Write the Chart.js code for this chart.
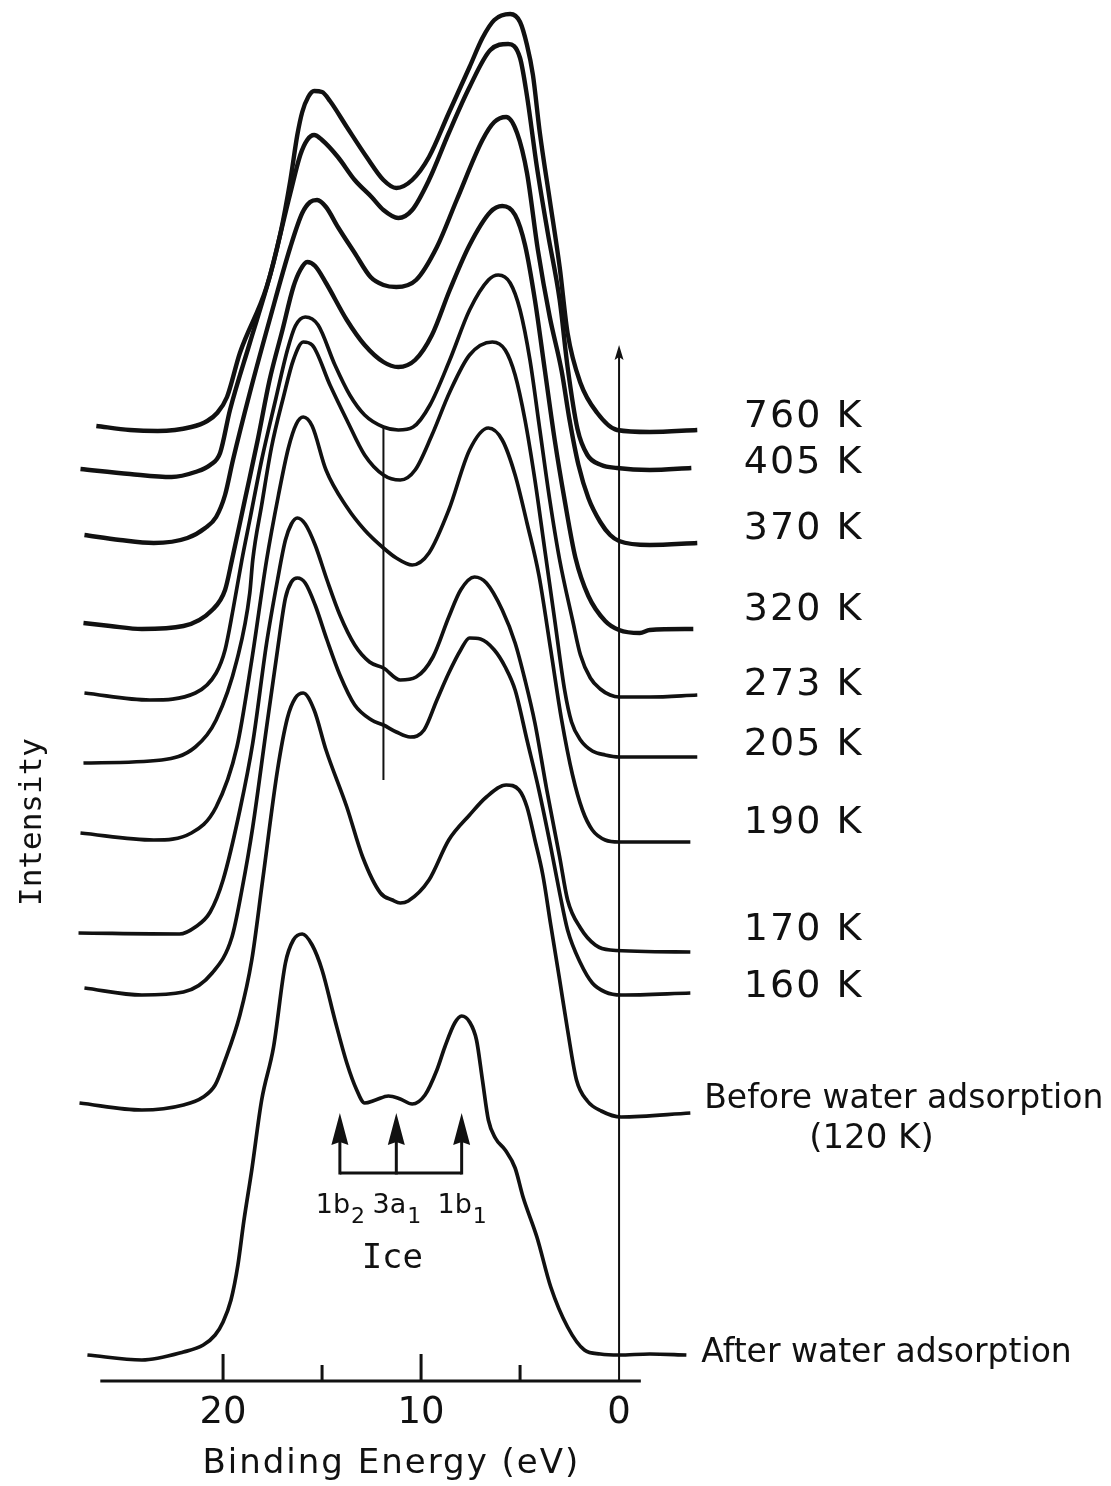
<!DOCTYPE html>
<html>
<head>
<meta charset="utf-8">
<title>Valence band spectra before and after water adsorption</title>
<script src="https://cdn.jsdelivr.net/npm/chart.js@4.4.1/dist/chart.umd.min.js"></script>
<style>
  html, body { margin: 0; padding: 0; background: #fff; }
  canvas { display: block; }
</style>
</head>
<body>
<canvas id="spectra" width="1111" height="1486"></canvas>
<script>
// Each spectrum: [binding energy (eV), intensity (arb. units, stacked offset)]
const S760 = [
  [26.4, 955], [24.7, 951], [23.3, 950], [21.6, 954], [20.8, 960], [20.3, 968], [19.8, 984],
  [19.15, 1028], [17.8, 1094], [17.1, 1148], [16.6, 1201], [16.25, 1246], [16.0, 1269], [15.7, 1284],
  [15.4, 1290], [15.0, 1289], [14.6, 1280], [13.75, 1254], [12.75, 1224], [11.9, 1201], [11.25, 1193],
  [10.45, 1201], [9.6, 1224], [8.6, 1268], [7.55, 1314], [6.9, 1343], [6.3, 1361], [5.5, 1367],
  [5.0, 1359], [4.65, 1336], [4.35, 1306], [4.0, 1248], [3.5, 1181], [3.0, 1114], [2.6, 1048],
  [1.95, 998], [1.1, 968], [0.1, 951], [-1.55, 949], [-3.95, 951]
];
const S405 = [
  [27.2, 912], [24.7, 907], [22.6, 904], [21.4, 909], [20.65, 916], [20.15, 928], [19.65, 971],
  [18.65, 1038], [17.65, 1104], [16.6, 1188], [16.1, 1226], [15.75, 1241], [15.4, 1246], [15.0, 1241],
  [14.2, 1224], [13.35, 1201], [12.5, 1184], [11.9, 1171], [11.15, 1163], [10.45, 1171], [9.6, 1201],
  [8.6, 1248], [7.55, 1294], [6.5, 1331], [5.6, 1337], [5.0, 1323], [4.65, 1285], [4.15, 1214],
  [3.6, 1148], [3.0, 1081], [2.6, 1014], [2.1, 952], [1.6, 926], [0.9, 916], [0.1, 913], [-1.55, 911],
  [-3.65, 913]
];
const S370 = [
  [27.0, 846], [25.2, 841], [23.5, 838], [21.8, 843], [20.9, 853], [20.35, 864], [19.9, 886],
  [19.5, 921], [18.65, 988], [17.65, 1061], [16.6, 1134], [16.0, 1168], [15.6, 1179], [15.25, 1181],
  [14.8, 1174], [14.2, 1154], [13.35, 1128], [12.55, 1104], [11.9, 1096], [11.25, 1094], [10.25, 1101],
  [9.2, 1134], [8.2, 1181], [6.9, 1241], [6.3, 1259], [5.7, 1264], [5.15, 1248], [4.65, 1208],
  [4.1, 1131], [3.5, 1064], [2.9, 1010], [2.5, 961], [2.05, 916], [1.55, 883], [0.95, 859],
  [0.45, 846], [0.0, 840], [-1.55, 836], [-3.95, 838]
];
const S320 = [
  [27.05, 758], [25.7, 755], [24.1, 752], [22.0, 755], [20.55, 771], [19.9, 791], [19.55, 821],
  [18.9, 881], [18.25, 941], [17.65, 1001], [17.0, 1051], [16.45, 1094], [16.1, 1111], [15.75, 1119],
  [15.35, 1115], [14.8, 1098], [13.75, 1061], [12.85, 1036], [11.9, 1019], [11.15, 1014], [10.3, 1021],
  [9.45, 1046], [8.55, 1091], [7.55, 1136], [6.5, 1169], [5.9, 1175], [5.25, 1166], [4.75, 1136],
  [4.25, 1081], [3.75, 1011], [3.25, 941], [2.75, 881], [2.2, 823], [1.55, 785], [0.7, 760],
  [0.0, 751], [-1.05, 748], [-1.55, 751], [-3.75, 752]
];
const S273 = [
  [27.0, 688], [23.7, 681], [21.4, 688], [20.35, 708], [19.9, 731], [19.5, 771], [19.05, 821],
  [18.65, 861], [18.05, 921], [17.35, 981], [16.75, 1031], [16.35, 1055], [15.85, 1064], [15.2, 1056],
  [14.35, 1016], [13.6, 986], [12.85, 966], [11.9, 954], [11.15, 951], [10.4, 954], [9.55, 976],
  [8.55, 1021], [7.55, 1071], [6.6, 1101], [6.1, 1106], [5.5, 1098], [5.0, 1071], [4.5, 1021],
  [4.0, 951], [3.5, 881], [3.0, 821], [2.35, 761], [1.95, 726], [1.45, 703], [0.95, 692],
  [0.45, 686], [0.0, 684], [-1.55, 684], [-3.95, 686]
];
const S205 = [
  [27.05, 618], [23.1, 621], [21.4, 634], [20.35, 661], [19.3, 721], [18.65, 788], [18.5, 821],
  [18.05, 876], [17.55, 934], [16.95, 984], [16.45, 1021], [15.95, 1039], [15.5, 1036], [14.6, 996],
  [13.75, 961], [12.85, 926], [11.9, 906], [11.05, 901], [10.3, 911], [9.45, 946], [8.55, 989],
  [7.55, 1026], [6.4, 1039], [5.75, 1031], [5.25, 1006], [4.75, 961], [4.25, 901], [3.75, 831],
  [3.25, 761], [2.75, 691], [2.4, 659], [1.95, 641], [1.35, 630], [0.7, 626], [0.0, 624], [-3.95, 624]
];
const S190 = [
  [27.2, 548], [23.5, 541], [21.6, 548], [20.35, 574], [19.3, 634], [18.55, 721], [17.8, 821],
  [17.2, 886], [16.7, 933], [16.3, 957], [15.95, 964], [15.5, 955], [14.8, 911], [13.75, 874],
  [12.85, 851], [11.9, 833], [11.25, 823], [10.45, 816], [9.6, 828], [8.6, 871], [7.55, 931],
  [6.6, 953], [5.9, 941], [5.25, 906], [4.65, 858], [4.05, 806], [3.45, 731], [2.9, 661],
  [2.35, 606], [1.85, 571], [1.35, 551], [0.7, 541], [0.0, 539], [-3.6, 539]
];
const S170 = [
  [27.3, 448], [22.2, 447], [21.4, 454], [20.65, 469], [20.0, 501], [19.15, 571], [18.5, 638],
  [17.8, 738], [17.25, 801], [16.85, 841], [16.55, 857], [16.25, 863], [15.85, 857], [15.35, 836],
  [14.75, 801], [14.1, 766], [13.35, 736], [12.6, 719], [11.9, 713], [11.05, 701], [10.25, 704],
  [9.4, 724], [8.6, 764], [8.0, 791], [7.3, 804], [6.7, 798], [5.9, 771], [5.25, 738], [4.75, 701],
  [4.25, 658], [3.65, 591], [3.0, 524], [2.6, 481], [1.95, 453], [1.2, 436], [0.45, 431], [-3.6, 429]
];
const S160 = [
  [27.0, 393], [24.1, 386], [22.0, 389], [20.55, 408], [19.55, 444], [19.05, 491], [18.5, 554],
  [17.8, 654], [17.25, 731], [16.85, 783], [16.55, 799], [16.25, 803], [15.85, 798], [15.35, 776],
  [14.75, 741], [14.1, 706], [13.35, 676], [12.5, 661], [11.9, 656], [11.25, 649], [10.55, 644],
  [9.85, 651], [9.2, 681], [8.6, 708], [8.0, 731], [7.55, 743], [7.0, 742], [6.3, 731], [5.75, 714],
  [5.25, 691], [4.65, 641], [4.05, 591], [3.45, 534], [3.0, 488], [2.6, 451], [1.95, 418],
  [1.35, 398], [0.7, 389], [-0.1, 386], [-3.6, 388]
];
const S_BEFORE = [
  [27.25, 278], [24.1, 271], [22.0, 276], [21.0, 284], [20.4, 296], [19.95, 318], [19.15, 366],
  [18.55, 421], [18.0, 501], [17.25, 611], [16.75, 663], [16.35, 683], [15.95, 688], [15.4, 671],
  [14.8, 631], [13.75, 574], [12.95, 524], [12.05, 488], [11.45, 481], [11.05, 478], [10.65, 480],
  [9.6, 501], [8.6, 541], [7.55, 566], [6.7, 584], [5.7, 596], [5.05, 591], [4.65, 574], [4.25, 541],
  [3.85, 506], [3.45, 456], [3.0, 401], [2.6, 351], [2.15, 301], [1.6, 280], [0.9, 270],
  [-0.1, 264], [-3.6, 268]
];
const S_AFTER = [
  [26.85, 26], [24.1, 21], [22.0, 29], [21.0, 36], [20.4, 46], [20.0, 59], [19.6, 81], [19.25, 116],
  [18.95, 160], [18.55, 211], [18.05, 281], [17.45, 334], [16.85, 418], [16.45, 441], [16.0, 447],
  [15.5, 436], [15.0, 411], [14.35, 361], [13.75, 318], [13.25, 291], [12.85, 278], [12.3, 281],
  [11.65, 285], [11.05, 282], [10.45, 277], [9.8, 286], [9.2, 311], [8.8, 334], [8.3, 358],
  [7.95, 365], [7.55, 359], [7.2, 341], [6.9, 301], [6.6, 261], [6.25, 243], [5.75, 231],
  [5.25, 213], [4.85, 184], [4.15, 144], [3.45, 94], [2.6, 54], [1.75, 31], [0.95, 27], [0.0, 26],
  [-1.55, 27], [-3.4, 26]
];

const SPECTRA = [S760, S405, S370, S320, S273, S205, S190, S170, S160, S_BEFORE, S_AFTER];
const TEMPERATURES = ['760 K', '405 K', '370 K', '320 K', '273 K', '205 K', '190 K', '170 K', '160 K'];

const ENERGY_TICKS = [20, 15, 10, 5, 0];
const ENERGY_LABELS = ['20', '10', '0'];

// ice orbitals marked under the adsorbed spectrum
const ICE_PEAKS = [14.1, 11.25, 7.95];
const ICE_ORBITALS = [['1b', '2'], ['3a', '1'], ['1b', '1']];
const GUIDE_3A1 = 11.9;

// ---- drawing setup ----
const INK = '#111';
const SANS = '"DejaVu Sans", "Liberation Sans", sans-serif';
const MONO = '"DejaVu Sans Mono", "Liberation Mono", monospace';

// baselines (intensity units) for the temperature labels
const LABEL_LEVEL = [954, 908, 842, 761, 686, 626, 548, 441, 384];

function write(ctx, str, x, y, size, opt = {}) {
  ctx.font = `${opt.weight || 'normal'} ${size}px ${opt.family || SANS}`;
  ctx.textAlign = opt.align || 'left';
  ctx.textBaseline = 'alphabetic';
  ctx.letterSpacing = (opt.spacing || 0) + 'px';
  ctx.fillText(str, x, y);
  ctx.letterSpacing = '0px';
}

function arrowUp(ctx, x, tip, w, h) {
  ctx.beginPath();
  ctx.moveTo(x, tip);
  ctx.lineTo(x + w / 2, tip + h);
  ctx.lineTo(x, tip + h - 3);
  ctx.lineTo(x - w / 2, tip + h);
  ctx.closePath();
  ctx.fill();
}

const annotate = {
  id: 'annotate',
  afterDatasetsDraw(chart) {
    const { ctx } = chart;
    const X = v => chart.scales.x.getPixelForValue(v);
    const Y = v => chart.scales.y.getPixelForValue(v);
    ctx.save();
    ctx.strokeStyle = INK;
    ctx.fillStyle = INK;
    ctx.lineCap = 'butt';

    // energy axis with inward ticks
    ctx.lineWidth = 3;
    ctx.beginPath();
    ctx.moveTo(X(26.2), Y(0));
    ctx.lineTo(X(-1.1), Y(0));
    ctx.stroke();
    ENERGY_TICKS.forEach(e => {
      if (e === 0) return;
      const len = e % 10 === 0 ? 27 : 16;
      ctx.beginPath();
      ctx.moveTo(X(e), Y(0));
      ctx.lineTo(X(e), Y(len));
      ctx.stroke();
    });
    ENERGY_LABELS.forEach(t => write(ctx, t, X(+t), Y(0) + 42, 37, { align: 'center' }));
    write(ctx, 'Binding Energy (eV)', X(11.5), Y(0) + 92, 34, { align: 'center', spacing: 2 });

    // Fermi level marker
    ctx.lineWidth = 2;
    ctx.beginPath();
    ctx.moveTo(X(0), Y(0));
    ctx.lineTo(X(0), Y(1026));
    ctx.stroke();
    arrowUp(ctx, X(0), Y(1036), 9, 15);

    // 3a1 guide through the intermediate spectra
    ctx.beginPath();
    ctx.moveTo(X(GUIDE_3A1), Y(953));
    ctx.lineTo(X(GUIDE_3A1), Y(601));
    ctx.stroke();

    // ice orbital arrows and bracket
    ctx.lineWidth = 3;
    ctx.beginPath();
    ctx.moveTo(X(ICE_PEAKS[0]), Y(208));
    ctx.lineTo(X(ICE_PEAKS[2]), Y(208));
    ctx.stroke();
    ICE_PEAKS.forEach((e, i) => {
      ctx.beginPath();
      ctx.moveTo(X(e), Y(208) + 1.5);
      ctx.lineTo(X(e), Y(245));
      ctx.stroke();
      arrowUp(ctx, X(e), Y(268), 17, 32);
      const [main, sub] = ICE_ORBITALS[i];
      ctx.font = `27px ${SANS}`;
      const wm = ctx.measureText(main).width;
      ctx.font = `22px ${SANS}`;
      const ws = ctx.measureText(sub).width;
      const x0 = X(e) - (wm + ws) / 2;
      write(ctx, main, x0, Y(168), 27);
      write(ctx, sub, x0 + wm + 1, Y(168) + 10, 22);
    });
    write(ctx, 'Ice', X(11.45), Y(113), 34, { family: MONO, align: 'center' });

    // temperature labels
    TEMPERATURES.forEach((t, i) => write(ctx, t, X(-6.3), Y(LABEL_LEVEL[i]), 38, { spacing: 2 }));
    write(ctx, 'Before water adsorption', X(-4.3), Y(273), 33);
    write(ctx, '(120 K)', X(-9.6), Y(233), 34);
    write(ctx, 'After water adsorption', X(-4.15), Y(19), 33);

    // intensity axis title
    ctx.translate(41, Y(559));
    ctx.rotate(-Math.PI / 2);
    write(ctx, 'Intensity', 0, 0, 31, { family: MONO, align: 'center' });
    ctx.restore();
  }
};

new Chart(document.getElementById('spectra'), {
  type: 'line',
  data: {
    datasets: SPECTRA.map((s, i) => ({
      label: TEMPERATURES[i] || (i === 9 ? 'Before' : 'After'),
      data: s.map(([e, v]) => ({ x: e, y: v })),
      borderColor: INK,
      borderWidth: i < 4 ? 4.4 : 3.7,
      pointRadius: 0,
      fill: false,
      cubicInterpolationMode: 'monotone'
    }))
  },
  options: {
    responsive: false,
    animation: false,
    devicePixelRatio: 1,
    events: [],
    layout: { padding: { left: 70, right: 406, top: 0, bottom: 105 } },
    scales: {
      x: { type: 'linear', reverse: true, min: -4.34, max: 27.73, display: false },
      y: { type: 'linear', min: 0, max: 1381, display: false }
    },
    plugins: { legend: { display: false }, tooltip: { enabled: false } }
  },
  plugins: [annotate]
});
</script>
</body>
</html>
